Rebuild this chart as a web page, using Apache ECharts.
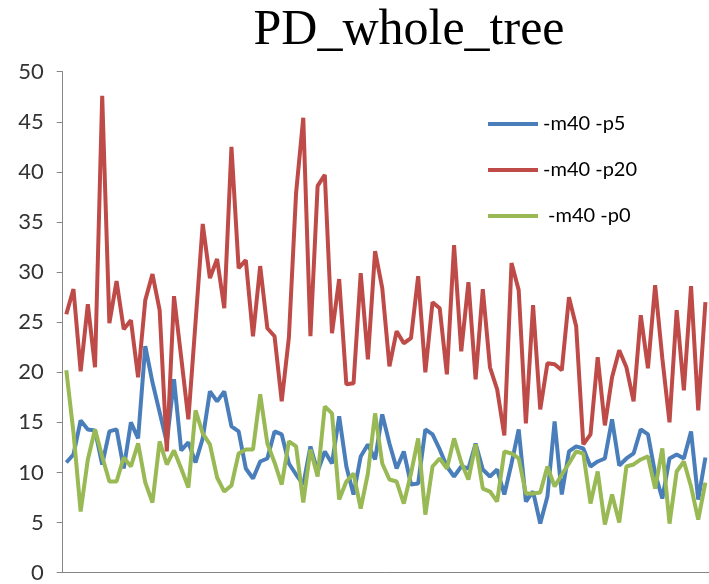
<!DOCTYPE html>
<html>
<head>
<meta charset="utf-8">
<script src="https://cdn.jsdelivr.net/npm/echarts@6/dist/echarts.min.js"></script>
<style>html,body{margin:0;padding:0;background:#fff;}#c{width:709px;height:584px;}</style>
</head>
<body>
<div id="c"></div>
<script>
var categories = [];
for (var k = 1; k <= 90; k++) categories.push(String(k));

var seriesNames = ['-m40 -p5', '-m40 -p20', ' -m40 -p0'];

var p5 = [11, 11.8, 15.2, 14.3, 14.2, 10.8, 14.1, 14.3, 10.4, 15, 13.4, 22.6, 19, 16, 13, 19.3, 12.2, 13, 11, 13.4,
  18.1, 17.1, 18.1, 14.6, 14.1, 10.4, 9.4, 11.1, 11.4, 14.1, 13.8, 10.9, 9.8, 8.8, 12.6, 10.1, 12.1, 10.9, 15.6, 10.6,
  7.8, 11.6, 12.8, 11.3, 15.8, 12.9, 10.4, 12.1, 8.8, 8.9, 14.3, 13.8, 12.3, 10.6, 9.6, 10.6, 10.4, 12.9, 10.3, 9.6,
  10.3, 7.8, 10.9, 14.3, 7.1, 8.1, 4.9, 7.6, 15.1, 7.8, 12.1, 12.6, 12.4, 10.6, 11.1, 11.4, 15.3, 10.7, 11.4, 11.9,
  14.3, 13.8, 9.9, 7.4, 11.4, 11.8, 11.4, 14.1, 7.3, 11.5];

var p20 = [25.8, 28.3, 20.1, 26.8, 20.5, 47.6, 24.9, 29.1, 24.3, 25.2, 19.5, 27.2, 29.8, 26.2, 12.1, 27.6, 21.5, 15.3, 25, 34.8,
  29.4, 31.3, 26.4, 42.5, 30.4, 31.2, 23.6, 30.6, 24.4, 23.6, 17.1, 23.5, 37.9, 45.4, 23.6, 38.6, 39.7, 23.9, 29.3, 18.8,
  18.9, 29.9, 21.3, 32.1, 28.4, 20.6, 24.1, 22.9, 23.4, 29.6, 20, 27, 26.4, 19.8, 32.7, 22.1, 29, 19.3, 28.3, 20.5,
  18.3, 13.7, 30.9, 28.2, 14.9, 26.7, 16.3, 20.9, 20.8, 20.2, 27.5, 24.6, 12.8, 13.8, 21.5, 14.7, 19.5, 22.2, 20.5, 17.1,
  25.7, 20.4, 28.7, 21.4, 15, 26.2, 18.2, 28.6, 16.2, 27];

var p0 = [20.2, 14, 6.1, 11.3, 14.3, 11.6, 9.1, 9.1, 11.5, 10.6, 12.9, 9, 7, 13.1, 10.8, 12.2, 10.4, 8.5, 16.2, 13.9,
  12.8, 9.5, 8.1, 8.7, 11.9, 12.3, 12.3, 17.8, 12.9, 11, 8.8, 13.1, 12.6, 7, 12.3, 9.6, 16.6, 15.9, 7.3, 9.1,
  9.9, 6.4, 9.9, 15.9, 10.9, 9.3, 9.1, 6.9, 9.9, 13.4, 5.8, 10.6, 11.4, 10.4, 13.4, 11, 9.3, 12.8, 8.4, 8.1,
  7.1, 12.1, 11.9, 11.4, 7.9, 7.9, 8, 10.6, 8.6, 9.8, 10.9, 12.1, 11.9, 6.9, 10.1, 4.8, 7.8, 5, 10.6, 10.8,
  11.3, 11.6, 8.4, 12.4, 4.9, 10.1, 11.1, 8.6, 5.3, 9];

var yTicks = [0, 5, 10, 15, 20, 25, 30, 35, 40, 45, 50];
var colors = ['#4A7EBB', '#BE4B48', '#98B954'];

var chart = echarts.init(document.getElementById('c'), null, {renderer: 'canvas'});
chart.setOption({
  animation: false,
  backgroundColor: '#ffffff',
  color: colors,
  title: {
    text: 'PD_whole_tree',
    left: 404,
    top: 1,
    textAlign: 'center',
    textStyle: {fontFamily: 'Liberation Serif', fontSize: 50, fontWeight: 'normal', color: '#000'}
  },
  legend: {
    orient: 'vertical',
    left: 483,
    top: 109,
    itemWidth: 50,
    itemHeight: 4,
    itemGap: 26,
    icon: 'rect',
    data: seriesNames,
    textStyle: {fontFamily: 'Lato', fontSize: 20, lineHeight: 20, color: '#000'}
  },
  grid: {left: 62.7, top: 71.7, width: 654, height: 501, containLabel: false},
  xAxis: {
    type: 'category',
    data: categories,
    boundaryGap: true,
    axisLine: {lineStyle: {color: '#868686', width: 1}},
    axisTick: {show: false},
    axisLabel: {show: false},
    splitLine: {show: false}
  },
  yAxis: {
    type: 'value',
    min: yTicks[0],
    max: yTicks[yTicks.length - 1],
    interval: 5,
    axisLine: {show: true, lineStyle: {color: '#868686', width: 1}},
    axisTick: {show: true, length: 6, lineStyle: {color: '#868686'}},
    axisLabel: {fontFamily: 'Lato', fontSize: 22, color: '#333', margin: 19},
    splitLine: {show: false}
  },
  series: [
    {name: seriesNames[0], type: 'line', data: p5, showSymbol: false, lineStyle: {width: 4, color: colors[0]}, itemStyle: {color: colors[0]}},
    {name: seriesNames[1], type: 'line', data: p20, showSymbol: false, lineStyle: {width: 4, color: colors[1]}, itemStyle: {color: colors[1]}},
    {name: seriesNames[2], type: 'line', data: p0, showSymbol: false, lineStyle: {width: 4, color: colors[2]}, itemStyle: {color: colors[2]}}
  ]
});
</script>
</body>
</html>
